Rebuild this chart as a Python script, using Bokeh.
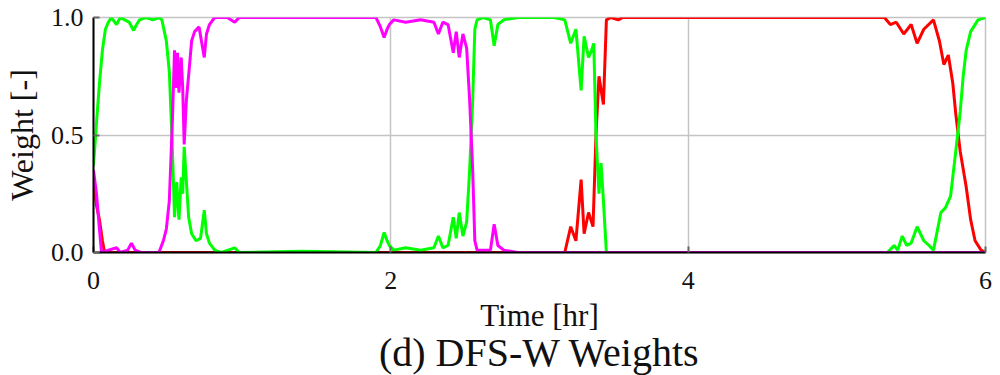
from bokeh.plotting import figure
from bokeh.models import Range1d, FixedTicker, Title, NumeralTickFormatter
from bokeh.embed import file_html
from bokeh.resources import INLINE

# ---- data ----
green_t = [0.00, 0.02, 0.04, 0.06, 0.08, 0.10, 0.12, 0.155, 0.18, 0.21, 0.24, 0.27, 0.29, 0.31,
           0.35, 0.40, 0.44, 0.46, 0.49, 0.51, 0.53, 0.545, 0.56, 0.575, 0.59, 0.60, 0.61, 0.625,
           0.64, 0.66, 0.69, 0.72, 0.745, 0.76, 0.78, 0.815, 0.86, 0.95, 0.98, 1.40, 1.90, 1.93,
           1.955, 1.975, 1.99, 2.02, 2.10, 2.20, 2.29, 2.32, 2.35, 2.385, 2.42, 2.44, 2.46, 2.485,
           2.51, 2.53, 2.55, 2.565, 2.58, 2.62, 2.67, 2.695, 2.72, 2.76, 2.85, 3.10, 3.17, 3.21,
           3.245, 3.28, 3.30, 3.33, 3.35, 3.365, 3.38, 3.40, 3.414, 3.43, 3.45, 4.50, 5.34, 5.385,
           5.41, 5.44, 5.47, 5.50, 5.54, 5.585, 5.62, 5.65, 5.70, 5.73, 5.765, 5.80, 5.83, 5.85,
           5.87, 5.90, 5.95, 6.00]
green_w = [0.37, 0.55, 0.72, 0.86, 0.95, 0.98, 1.00, 0.97, 1.00, 0.99, 0.98, 0.945, 0.97, 0.99,
           1.00, 0.99, 1.00, 0.99, 0.90, 0.77, 0.45, 0.15, 0.30, 0.14, 0.32, 0.25, 0.45, 0.30,
           0.15, 0.08, 0.05, 0.06, 0.18, 0.08, 0.04, 0.01, 0.00, 0.02, 0.00, 0.005, 0.00, 0.03,
           0.085, 0.05, 0.03, 0.01, 0.02, 0.01, 0.02, 0.07, 0.02, 0.03, 0.15, 0.06, 0.17, 0.07,
           0.13, 0.35, 0.64, 0.95, 0.99, 1.00, 0.99, 0.88, 0.97, 0.99, 1.00, 1.00, 0.99, 0.89,
           0.95, 0.69, 0.92, 0.83, 0.86, 0.89, 0.50, 0.25, 0.38, 0.22, 0.00, 0.00, 0.00, 0.03,
           0.01, 0.07, 0.03, 0.04, 0.11, 0.05, 0.03, 0.01, 0.17, 0.19, 0.24, 0.43, 0.60, 0.75,
           0.86, 0.94, 0.99, 1.00]

magenta_t = [0.00, 0.02, 0.04, 0.054, 0.10, 0.155, 0.18, 0.23, 0.255, 0.28, 0.32, 0.44, 0.47,
             0.49, 0.51, 0.53, 0.545, 0.555, 0.565, 0.575, 0.59, 0.60, 0.61, 0.625, 0.645, 0.66,
             0.68, 0.71, 0.745, 0.76, 0.78, 0.815, 0.90, 0.95, 0.98, 1.90, 1.93, 1.955, 1.975,
             1.99, 2.02, 2.10, 2.20, 2.29, 2.32, 2.35, 2.385, 2.42, 2.44, 2.46, 2.485, 2.51, 2.53,
             2.55, 2.565, 2.58, 2.67, 2.695, 2.72, 2.76, 2.85, 6.00]
magenta_w = [0.35, 0.25, 0.10, 0.00, 0.01, 0.02, 0.00, 0.01, 0.04, 0.01, 0.00, 0.00, 0.05,
             0.10, 0.22, 0.55, 0.86, 0.70, 0.85, 0.68, 0.83, 0.70, 0.46, 0.65, 0.79, 0.90,
             0.94, 0.96, 0.83, 0.93, 0.97, 1.00, 1.00, 0.98, 1.00, 1.00, 0.96, 0.915, 0.95,
             0.97, 0.99, 0.98, 0.99, 0.98, 0.93, 0.98, 0.97, 0.85, 0.94, 0.83, 0.93, 0.87, 0.65,
             0.36, 0.05, 0.01, 0.01, 0.12, 0.03, 0.01, 0.00, 0.00]

red_t = [0.00, 0.02, 0.04, 0.06, 0.075, 1.00, 2.00, 3.17, 3.21, 3.245, 3.28, 3.30, 3.33, 3.36,
         3.38, 3.40, 3.43, 3.45, 3.48, 3.53, 3.56, 5.32, 5.36, 5.40, 5.45, 5.50, 5.54, 5.585,
         5.65, 5.69, 5.72, 5.75, 5.78, 5.80, 5.83, 5.87, 5.90, 5.93, 5.97, 6.00]
red_w = [0.30, 0.20, 0.14, 0.05, 0.00, 0.00, 0.00, 0.00, 0.11, 0.05, 0.31, 0.08, 0.17, 0.11,
         0.50, 0.75, 0.63, 0.99, 1.00, 0.99, 1.00, 1.00, 0.97, 0.98, 0.93, 0.97, 0.89, 0.95,
         0.99, 0.90, 0.80, 0.84, 0.72, 0.59, 0.43, 0.28, 0.14, 0.05, 0.01, 0.00]

x_ticks = [0, 2, 4, 6]
y_ticks = [0.0, 0.5, 1.0]

FONT = "Liberation Serif"

p = figure(width=1000, height=375, output_backend="svg", toolbar_location=None,
           x_range=Range1d(0, 6), y_range=Range1d(0, 1),
           min_border_left=92, min_border_right=15, min_border_top=17, min_border_bottom=123)

p.line(red_t, red_w, line_color="#ff0000", line_width=3)
p.line(green_t, green_w, line_color="#00ff00", line_width=3)
p.line(magenta_t, magenta_w, line_color="#ff00ff", line_width=3)

p.xaxis.ticker = FixedTicker(ticks=x_ticks)
p.yaxis.ticker = FixedTicker(ticks=y_ticks)
p.yaxis.formatter = NumeralTickFormatter(format="0.0")
for ax in (p.xaxis, p.yaxis):
    ax.major_label_text_font = FONT
    ax.major_label_text_font_size = "26px"
    ax.major_label_text_color = "#111111"
    ax.axis_label_text_font = FONT
    ax.axis_label_text_font_style = "normal"
    ax.axis_label_text_color = "#111111"
    ax.major_tick_in = 6
    ax.major_tick_out = 0
    ax.minor_tick_in = 0
    ax.minor_tick_out = 0
    ax.major_tick_line_color = "#666666"
    ax.major_tick_line_width = 2
    ax.axis_line_color = "#000000"
    ax.axis_line_width = 2
p.xaxis.axis_label = "Time [hr]"
p.yaxis.axis_label = "Weight [-]"
p.xaxis.axis_label_text_font_size = "31px"
p.yaxis.axis_label_text_font_size = "32px"
p.xaxis.major_label_standoff = 19
p.yaxis.major_label_standoff = 10
p.xaxis.axis_label_standoff = 6
p.yaxis.axis_label_standoff = 8

p.grid.grid_line_color = "#c4c4c4"
p.grid.grid_line_width = 1.5
p.outline_line_color = "#c4c4c4"
p.outline_line_width = 1.5

p.add_layout(Title(text="(d) DFS-W Weights", align="center", text_font=FONT,
                   text_font_size="40px", text_font_style="normal", text_color="#111111",
                   standoff=-15), "below")

open("out.html", "w").write(file_html(p, INLINE))
